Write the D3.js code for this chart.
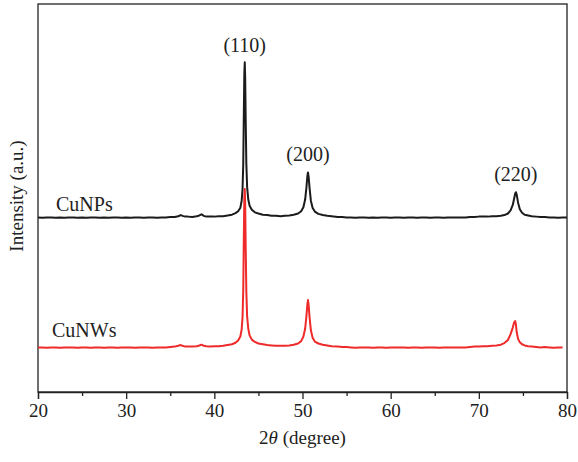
<!DOCTYPE html>
<html><head><meta charset="utf-8">
<script src="https://cdn.jsdelivr.net/npm/d3@7"></script>
<style>body{margin:0;background:#fff}svg{display:block}text{font-family:"Liberation Serif","DejaVu Serif",serif;fill:#222}</style>
</head><body><svg id="c" width="578" height="462"></svg>
<script>
// ---- data ----
const xTicks = [20, 30, 40, 50, 60, 70, 80];
const xMinorTicks = [25, 35, 45, 55, 65, 75];
const seriesNames = ["CuNPs", "CuNWs"];
const seriesOffsets = [448, 113];
const peakLabels = ["(110)", "(200)", "(220)"];
const peakLabelTheta = [43.45, 50.62, 74.2];
const peakLabelIntensity = [876, 595, 544];

const npsTheta = [20,20.5,21,21.5,22,22.5,23,23.5,24,24.5,25,25.5,26,26.5,27,27.5,28,28.5,29,29.5,30,30.5,31,31.5,32,32.5,33,33.5,34,34.5,35,35.5,35.9,36.2,36.4,36.7,37,37.5,38,38.3,38.55,38.8,39.1,39.5,40,40.5,41,41.5,42,42.4,42.7,42.95,43.1,43.2,43.28,43.34,43.4,43.45,43.5,43.56,43.63,43.72,43.85,44.0,44.25,44.6,45,45.5,46,46.5,47,47.5,48,48.5,49,49.5,49.85,50.1,50.3,50.45,50.55,50.62,50.7,50.8,50.95,51.15,51.4,51.8,52.3,52.8,53.3,54,54.5,55,55.5,56,56.5,57,57.5,58,58.5,59,59.5,60,60.5,61,61.5,62,62.5,63,63.5,64,64.5,65,65.5,66,66.5,67,67.5,68,68.5,69,69.5,70,70.5,71,71.5,72,72.5,72.9,73.3,73.6,73.85,74.0,74.12,74.2,74.3,74.45,74.65,74.9,75.2,75.6,76,76.5,77,77.5,78,78.5,79,79.5,80];
const npsIntensity = [2,1,2,2,1,2,1,2,2,1,2,1,2,2,1,2,1,2,2,1,2,1,2,2,1,2,2,1,2,2,3,3,5,8,6,4,4,3,5,7,10,6,4,4,4,5,5,7,9,13,18,27,45,75,140,260,370,402,360,250,140,80,48,32,22,15,12,9,8,6,6,5,6,7,9,12,18,28,48,80,108,118,106,78,45,26,17,11,8,6,5,3,3,2,2,1,2,2,1,2,1,2,2,1,2,2,1,2,2,1,2,2,1,2,2,1,2,2,2,2,2,3,3,4,4,4,5,5,6,8,12,20,34,50,63,67,60,40,23,14,9,7,5,4,3,3,2,2,1,2,2];

const nwsTheta = npsTheta.slice();
const nwsIntensity = [2,2,1,2,2,1,2,2,2,1,2,2,1,2,2,1,2,2,1,2,2,2,1,2,2,2,1,2,2,2,3,4,6,8,6,4,4,4,5,7,9,6,5,4,5,5,6,8,10,14,20,30,48,80,150,275,385,410,370,255,145,82,50,33,22,16,12,10,8,7,6,6,6,7,9,12,18,30,50,84,112,124,110,80,46,27,17,12,9,7,5,4,3,3,2,1,2,2,2,1,2,2,1,2,2,2,2,1,2,2,1,2,2,2,1,2,2,2,2,2,2,3,4,4,5,5,6,7,9,13,21,36,53,66,70,62,41,24,15,10,7,5,4,3,2,3,2,1,2,2];

// ---- layout ----
const svg = d3.select("#c");
const L = 38, R = 567, T = 4, B = 392;
const x = d3.scaleLinear().domain([20, 80]).range([L, R]);
const y = d3.scaleLinear().domain([0, 1000]).range([B, T]);

// frame
svg.append("rect").attr("x", L).attr("y", T).attr("width", R - L).attr("height", B - T)
  .attr("fill", "none").attr("stroke", "#222").attr("stroke-width", 1.3);

// x axis
const ax = svg.append("g").attr("transform", `translate(0,${B})`)
  .call(d3.axisBottom(x).tickValues(xTicks).tickSize(7).tickPadding(5).tickFormat(d3.format("d")));
ax.select(".domain").attr("stroke", "#222").attr("stroke-width", 1.3);
ax.selectAll(".tick line").attr("stroke", "#222").attr("stroke-width", 1.3);
ax.selectAll("text").style("font-size", "19px").attr("fill", "#222").attr("font-family", "Liberation Serif");
const axm = svg.append("g").attr("transform", `translate(0,${B})`)
  .call(d3.axisBottom(x).tickValues(xMinorTicks).tickSize(4).tickFormat(""));
axm.select(".domain").remove();
axm.selectAll(".tick line").attr("stroke", "#222").attr("stroke-width", 1.3);

// axis titles
const xl = svg.append("text").attr("x", (L + R) / 2).attr("y", 444).attr("text-anchor", "middle").style("font-size", "19px");
xl.append("tspan").text("2");
xl.append("tspan").attr("font-style", "italic").text("θ");
xl.append("tspan").text(" (degree)");
svg.append("text").attr("transform", "translate(23,196) rotate(-90)").attr("text-anchor", "middle")
  .style("font-size", "19px").text("Intensity (a.u.)");

// series
const series = [
  {theta: npsTheta, inten: npsIntensity, off: seriesOffsets[0], color: "#1b1b1b"},
  {theta: nwsTheta, inten: nwsIntensity, off: seriesOffsets[1], color: "#ee2a2a"}
];
const line = d3.line().x(d => x(d[0])).y(d => y(d[1]));
series.forEach(s => {
  const pts = s.theta.map((t, i) => [t, s.inten[i] + s.off]);
  svg.append("path").datum(pts).attr("d", line).attr("fill", "none")
    .attr("stroke", s.color).attr("stroke-width", 2).attr("stroke-linejoin", "round");
});

// series labels
svg.append("text").attr("x", 56).attr("y", y(seriesOffsets[0]) - 7).style("font-size", "20px").text(seriesNames[0]);
svg.append("text").attr("x", 52).attr("y", y(seriesOffsets[1]) - 11).style("font-size", "20px").text(seriesNames[1]);

// peak labels
peakLabels.forEach((t, i) => {
  svg.append("text").attr("x", x(peakLabelTheta[i])).attr("y", y(peakLabelIntensity[i]))
    .attr("text-anchor", "middle").style("font-size", "20px").text(t);
});
</script></body></html>
